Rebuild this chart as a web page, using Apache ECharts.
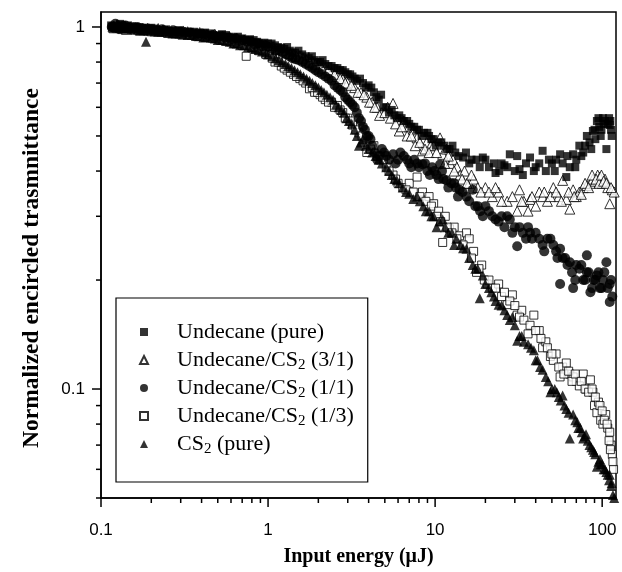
<!DOCTYPE html>
<html>
<head>
<meta charset="utf-8">
<script src="https://cdn.jsdelivr.net/npm/echarts@6/dist/echarts.min.js"></script>
<style>
html,body{margin:0;padding:0;background:#fff;}
#c{width:622px;height:572px;}
</style>
</head>
<body>
<div id="c"></div>
<script>
// ---- Data ----
const seriesNames = ['Undecane (pure)', 'Undecane/CS2 (3/1)', 'Undecane/CS2 (1/1)', 'Undecane/CS2 (1/3)', 'CS2 (pure)'];

const undecanePure = [
[0.115,1.01],[0.12,0.99],[0.13,1.02],[0.14,1.0],[0.155,0.99],[0.17,1.0],[0.19,0.985],[0.21,0.99],[0.23,0.98],[0.26,0.975],[0.29,0.98],[0.32,0.965],[0.36,0.97],[0.4,0.955],[0.45,0.96],[0.5,0.945],[0.56,0.95],[0.62,0.935],[0.7,0.93],[0.78,0.925],[0.86,0.91],[0.95,0.905],
[0.118,1.0],[0.125,1.005],[0.135,0.99],[0.145,1.01],[0.16,1.0],[0.18,0.99],[0.2,0.995],[0.22,0.98],[0.245,0.985],[0.275,0.97],[0.305,0.975],[0.34,0.97],[0.38,0.96],[0.42,0.965],[0.47,0.95],[0.53,0.955],[0.59,0.94],[0.66,0.94],[0.74,0.92],[0.82,0.92],[0.9,0.9],[1.0,0.9],
[1.05,0.9],[1.15,0.88],[1.25,0.87],[1.35,0.86],[1.45,0.85],[1.6,0.84],[1.75,0.82],[1.9,0.81],[2.05,0.80],[2.2,0.79],[2.4,0.78],[2.6,0.77],[2.8,0.76],[3.0,0.74],[3.2,0.73],[3.4,0.71],[3.7,0.70],[4.0,0.69],[4.3,0.66],[4.6,0.63],[4.9,0.6],[5.3,0.58],[5.7,0.57],[6.1,0.57],[6.5,0.55],[7.0,0.54],[7.5,0.53],[8.0,0.52],[8.6,0.51],[9.2,0.5],[9.8,0.49],
[1.1,0.89],[1.2,0.875],[1.3,0.88],[1.4,0.85],[1.52,0.86],[1.68,0.83],[1.83,0.83],[1.98,0.8],[2.12,0.81],[2.3,0.78],[2.5,0.77],[2.7,0.76],[2.9,0.75],[3.1,0.74],[3.3,0.72],[3.55,0.72],[3.85,0.68],[4.15,0.68],[4.45,0.64],[4.75,0.65],[5.1,0.6],[5.5,0.59],[5.9,0.56],[6.3,0.56],[6.8,0.55],[7.2,0.53],[7.8,0.52],[8.3,0.5],[9.0,0.51],[9.5,0.49],
[10.5,0.48],[11.3,0.47],[12.2,0.46],[13.2,0.45],[14.7,0.436],[16,0.42],[17.7,0.43],[19.3,0.436],[21,0.41],[22.5,0.42],[24.2,0.40],[26,0.415],[28,0.445],[30,0.40],[33.5,0.39],[35,0.42],[37,0.436],[40,0.41],[44,0.455],[46,0.40],[50,0.42],[53,0.43],[56,0.445],[61,0.385],[64,0.41],[67,0.445],[70,0.43],[73,0.47],[77,0.45],[81,0.50],[84,0.48],[88,0.516],[91,0.49],[93,0.55],[96,0.53],[99,0.52],[101,0.56],[104,0.55],[106,0.46],[108,0.54],[111,0.536],[113,0.52],
[10.1,0.47],[10.9,0.48],[11.8,0.46],[12.7,0.47],[13.8,0.44],[15.3,0.45],[16.5,0.43],[18.5,0.41],[20,0.43],[23,0.395],[25,0.42],[27,0.41],[31,0.44],[32,0.405],[39,0.40],[42,0.42],[48,0.43],[52,0.40],[58,0.42],[62,0.44],[69,0.41],[75,0.44],[79,0.47],[86,0.46],[90,0.52],[95,0.56],[98,0.5],[102,0.54],[110,0.56],[112,0.55],[114,0.5]
];

const mix31 = [
[0.118,1.0],[0.125,1.01],[0.135,0.99],[0.15,1.0],[0.165,0.99],[0.18,0.985],[0.2,0.98],[0.22,0.99],[0.25,0.975],[0.28,0.97],[0.31,0.975],[0.35,0.96],[0.39,0.965],[0.43,0.95],[0.48,0.955],[0.53,0.94],[0.59,0.935],[0.65,0.93],[0.72,0.92],[0.8,0.91],[0.88,0.9],[0.97,0.89],
[0.12,0.995],[0.13,1.0],[0.142,0.985],[0.158,0.99],[0.172,0.98],[0.19,0.99],[0.21,0.975],[0.235,0.98],[0.265,0.97],[0.295,0.965],[0.33,0.97],[0.37,0.955],[0.41,0.955],[0.455,0.945],[0.5,0.94],[0.56,0.93],[0.62,0.925],[0.68,0.915],[0.76,0.915],[0.84,0.9],[0.92,0.895],[1.02,0.88],
[1.07,0.88],[1.18,0.87],[1.3,0.85],[1.42,0.84],[1.55,0.83],[1.7,0.81],[1.85,0.80],[2.0,0.79],[2.2,0.77],[2.4,0.75],[2.6,0.73],[2.8,0.72],[3.0,0.70],[3.3,0.68],[3.6,0.66],[3.9,0.64],[4.2,0.62],[4.5,0.6],[4.8,0.58],[5.2,0.6],[5.6,0.615],[6.1,0.516],[6.5,0.55],[7.0,0.53],[7.4,0.52],[7.8,0.494],[8.4,0.455],[8.9,0.48],[9.4,0.47],[9.8,0.47],
[1.12,0.87],[1.24,0.86],[1.36,0.845],[1.48,0.83],[1.62,0.82],[1.78,0.8],[1.92,0.79],[2.1,0.77],[2.3,0.76],[2.5,0.74],[2.7,0.72],[2.9,0.7],[3.15,0.69],[3.45,0.66],[3.75,0.65],[4.05,0.62],[4.35,0.6],[4.65,0.57],[5.0,0.58],[5.4,0.56],[5.8,0.54],[6.3,0.53],[6.8,0.5],[7.2,0.5],[7.6,0.47],[8.1,0.48],[8.7,0.46],[9.2,0.45],
[10.7,0.494],[11.1,0.445],[11.7,0.46],[12.3,0.42],[12.8,0.43],[13.5,0.41],[14.1,0.39],[15,0.40],[16,0.37],[17,0.38],[18,0.36],[20,0.36],[22,0.34],[24,0.35],[27,0.33],[31,0.31],[32,0.355],[34,0.33],[36,0.31],[37,0.334],[40,0.32],[42,0.35],[44,0.34],[47,0.33],[51,0.36],[55,0.34],[58,0.377],[61,0.334],[64,0.314],[67,0.355],[70,0.34],[73,0.35],[77,0.36],[81,0.365],[85,0.37],[88,0.38],[91,0.375],[94,0.39],[97,0.385],[100,0.37],[104,0.38],[108,0.36],[111,0.325],[115,0.355],[118,0.35],
[10.2,0.45],[11.4,0.42],[12,0.44],[13,0.40],[14.5,0.38],[15.5,0.37],[16.5,0.39],[18.8,0.35],[21,0.35],[23,0.36],[25,0.33],[29,0.34],[33,0.33],[38,0.34],[45,0.35],[49,0.34],[53,0.35],[57,0.33],[63,0.35],[68,0.34],[75,0.345],[79,0.37],[83,0.36],[87,0.39],[92,0.38],[96,0.37],[99,0.39],[102,0.375],[106,0.37],[113,0.36]
];

const mix11 = [
[0.116,1.0],[0.122,1.02],[0.13,1.0],[0.14,1.01],[0.15,0.99],[0.165,1.0],[0.18,0.99],[0.2,0.985],[0.22,0.98],[0.245,0.975],[0.27,0.98],[0.3,0.97],[0.34,0.965],[0.38,0.96],[0.42,0.955],[0.47,0.95],[0.52,0.945],[0.58,0.935],[0.64,0.93],[0.71,0.92],[0.79,0.91],[0.87,0.9],[0.96,0.89],
[0.118,1.0],[0.126,0.99],[0.135,1.005],[0.145,0.995],[0.157,1.0],[0.172,0.985],[0.19,0.99],[0.21,0.98],[0.232,0.985],[0.258,0.97],[0.285,0.97],[0.32,0.965],[0.36,0.955],[0.4,0.96],[0.445,0.945],[0.495,0.94],[0.55,0.935],[0.61,0.925],[0.675,0.915],[0.75,0.91],[0.83,0.895],[0.91,0.885],[1.0,0.88],
[1.06,0.87],[1.17,0.86],[1.28,0.84],[1.4,0.82],[1.53,0.81],[1.68,0.79],[1.84,0.77],[2.0,0.75],[2.2,0.73],[2.4,0.71],[2.6,0.68],[2.8,0.66],[3.0,0.63],[3.2,0.61],[3.4,0.58],[3.6,0.55],[3.8,0.52],[4.0,0.5],[4.2,0.47],[4.5,0.43],[4.8,0.46],[5.1,0.44],[5.6,0.445],[6.0,0.43],[6.5,0.44],[7.0,0.42],[7.5,0.43],[8.0,0.41],[8.4,0.418],[9.0,0.40],[9.6,0.41],
[1.11,0.86],[1.22,0.85],[1.34,0.83],[1.46,0.815],[1.6,0.8],[1.76,0.78],[1.92,0.76],[2.1,0.74],[2.3,0.72],[2.5,0.69],[2.7,0.67],[2.9,0.64],[3.1,0.62],[3.3,0.6],[3.5,0.56],[3.7,0.53],[3.9,0.5],[4.1,0.49],[4.35,0.45],[4.65,0.44],[4.95,0.45],[5.3,0.43],[5.8,0.42],[6.2,0.45],[6.8,0.43],[7.2,0.41],[7.8,0.42],[8.7,0.42],[9.3,0.39],[9.9,0.4],
[10.2,0.39],[10.7,0.417],[11.2,0.38],[11.7,0.377],[12.5,0.37],[13.3,0.36],[14,0.355],[15.4,0.34],[16.8,0.355],[18,0.32],[19.3,0.30],[21,0.31],[23,0.294],[25,0.30],[28,0.294],[30,0.28],[31,0.248],[33.5,0.27],[36,0.28],[38,0.26],[40,0.27],[44,0.25],[47,0.26],[49,0.26],[53,0.24],[56,0.244],[56,0.195],[60,0.23],[64,0.224],[67,0.19],[70,0.22],[73,0.215],[77,0.2],[81,0.234],[81,0.21],[85,0.185],[89,0.2],[93,0.206],[97,0.19],[101,0.2],[106,0.224],[108,0.19],[111,0.195],[111,0.174],[115,0.18],
[10.5,0.38],[11,0.4],[12,0.36],[13,0.37],[13.7,0.34],[14.6,0.35],[16,0.33],[17.4,0.32],[18.6,0.31],[20,0.32],[22,0.3],[24,0.29],[26,0.28],[27,0.3],[29,0.27],[32,0.28],[35,0.26],[37,0.27],[42,0.26],[45,0.24],[51,0.25],[54,0.23],[58,0.23],[62,0.22],[66,0.21],[69,0.2],[75,0.22],[79,0.2],[83,0.21],[87,0.19],[91,0.2],[95,0.21],[99,0.19],[103,0.21],[113,0.2]
];

const mix13 = [
[0.117,1.0],[0.124,0.99],[0.133,1.01],[0.145,0.99],[0.16,0.98],[0.175,0.99],[0.19,0.975],[0.21,0.98],[0.235,0.97],[0.26,0.965],[0.29,0.96],[0.32,0.955],[0.36,0.95],[0.4,0.945],[0.44,0.94],[0.49,0.93],[0.54,0.925],[0.6,0.91],[0.66,0.9],[0.74,0.83],[0.76,0.89],[0.84,0.87],[0.93,0.86],
[0.12,1.005],[0.128,0.995],[0.138,0.99],[0.152,0.985],[0.168,0.98],[0.182,0.98],[0.2,0.97],[0.222,0.97],[0.25,0.96],[0.275,0.96],[0.305,0.95],[0.34,0.95],[0.38,0.94],[0.42,0.935],[0.465,0.93],[0.515,0.92],[0.57,0.915],[0.63,0.9],[0.7,0.89],[0.8,0.875],[0.88,0.86],[0.97,0.84],
[1.02,0.84],[1.1,0.8],[1.2,0.78],[1.3,0.76],[1.42,0.74],[1.55,0.72],[1.68,0.7],[1.77,0.675],[1.9,0.66],[2.05,0.65],[2.2,0.63],[2.4,0.62],[2.6,0.607],[2.8,0.58],[3.0,0.56],[3.2,0.536],[3.5,0.51],[3.9,0.494],[3.9,0.45],[4.3,0.47],[4.7,0.44],[5.1,0.41],[5.6,0.39],[6.0,0.37],[6.4,0.36],[7.0,0.37],[7.8,0.385],[8.4,0.35],[9.2,0.34],[9.8,0.325],
[1.06,0.82],[1.15,0.8],[1.25,0.77],[1.36,0.75],[1.48,0.73],[1.62,0.71],[1.84,0.68],[1.98,0.66],[2.12,0.64],[2.3,0.62],[2.5,0.6],[2.7,0.59],[2.9,0.56],[3.1,0.55],[3.35,0.52],[3.65,0.5],[4.1,0.46],[4.5,0.44],[4.9,0.43],[5.3,0.4],[5.8,0.38],[6.7,0.355],[7.4,0.35],[8.1,0.34],[8.8,0.33],[9.5,0.32],
[10.5,0.31],[11.1,0.254],[11.5,0.3],[12.2,0.277],[13,0.28],[14,0.265],[15.4,0.27],[16,0.26],[17,0.24],[17.7,0.21],[19,0.22],[20.5,0.195],[22,0.19],[24,0.195],[27,0.171],[29,0.182],[31,0.16],[33,0.165],[36,0.142],[39,0.16],[42,0.145],[44,0.13],[46,0.135],[49,0.123],[51,0.12],[53,0.125],[56,0.108],[58,0.115],[61,0.118],[64,0.11],[67,0.108],[70,0.105],[73,0.102],[77,0.11],[80,0.1],[85,0.106],[88,0.098],[90,0.09],[93,0.086],[95,0.092],[98,0.082],[101,0.08],[105,0.085],[108,0.078],[111,0.076],[113,0.07],[115,0.066],[117,0.06],
[10.2,0.3],[10.8,0.29],[11.8,0.28],[12.6,0.27],[13.5,0.26],[14.7,0.25],[16.5,0.23],[18.3,0.215],[19.7,0.2],[21,0.2],[23,0.19],[25,0.18],[26,0.185],[28,0.175],[30,0.17],[32,0.158],[34,0.155],[37,0.15],[40,0.145],[43,0.138],[47,0.13],[50,0.125],[55,0.115],[59,0.11],[63,0.112],[66,0.105],[69,0.11],[75,0.105],[79,0.1],[83,0.098],[87,0.1],[91,0.095],[97,0.09],[100,0.087],[103,0.082],[107,0.08],[110,0.072],[112,0.068],[116,0.063]
];

const cs2Pure = [
[0.119,1.01],[0.127,1.0],[0.137,0.99],[0.148,1.0],[0.16,0.99],[0.172,0.98],[0.186,0.91],[0.19,0.98],[0.21,0.975],[0.23,0.97],[0.255,0.965],[0.28,0.96],[0.31,0.955],[0.35,0.95],[0.39,0.945],[0.43,0.94],[0.48,0.93],[0.53,0.92],[0.59,0.91],[0.65,0.9],[0.72,0.89],[0.8,0.88],[0.88,0.865],[0.97,0.85],
[0.122,1.0],[0.132,1.005],[0.142,0.99],[0.154,0.995],[0.166,0.985],[0.18,0.98],[0.2,0.98],[0.22,0.97],[0.242,0.97],[0.268,0.96],[0.295,0.96],[0.33,0.95],[0.37,0.945],[0.41,0.935],[0.455,0.935],[0.5,0.92],[0.56,0.915],[0.62,0.9],[0.68,0.89],[0.76,0.88],[0.84,0.87],[0.92,0.855],[1.0,0.84],
[1.06,0.83],[1.16,0.81],[1.27,0.79],[1.38,0.77],[1.5,0.75],[1.63,0.73],[1.77,0.71],[1.92,0.69],[2.08,0.67],[2.25,0.65],[2.45,0.63],[2.65,0.6],[2.85,0.58],[3.05,0.55],[3.3,0.52],[3.5,0.47],[3.7,0.49],[4.0,0.46],[4.4,0.44],[4.8,0.42],[5.1,0.41],[5.5,0.39],[5.9,0.377],[6.4,0.36],[7.0,0.346],[7.8,0.34],[8.5,0.32],[9.2,0.31],[9.8,0.30],
[1.11,0.82],[1.21,0.8],[1.32,0.78],[1.44,0.76],[1.56,0.74],[1.7,0.72],[1.84,0.7],[2.0,0.68],[2.16,0.66],[2.35,0.64],[2.55,0.61],[2.75,0.59],[2.95,0.56],[3.17,0.54],[3.4,0.5],[3.6,0.48],[3.85,0.47],[4.2,0.45],[4.6,0.43],[5.3,0.4],[5.7,0.38],[6.1,0.37],[6.7,0.35],[7.4,0.335],[8.1,0.33],[8.8,0.31],[9.5,0.3],
[10.2,0.28],[11.1,0.294],[12,0.27],[13.4,0.26],[14.2,0.25],[15.4,0.244],[16.8,0.22],[18,0.215],[18.5,0.178],[19.3,0.206],[21,0.19],[22.5,0.18],[24,0.171],[26,0.165],[29,0.158],[31,0.136],[33,0.14],[36,0.133],[39,0.128],[41,0.12],[44,0.113],[46,0.108],[49,0.098],[52,0.1],[55,0.095],[58,0.096],[61,0.088],[64,0.073],[67,0.085],[71,0.081],[74,0.078],[77,0.073],[80,0.075],[84,0.07],[88,0.068],[91,0.066],[93,0.061],[97,0.064],[100,0.062],[104,0.06],[108,0.058],[111,0.058],[114,0.055],[116,0.051],
[10.6,0.29],[11.5,0.28],[12.6,0.27],[13,0.25],[14.7,0.245],[16,0.23],[17.4,0.215],[20,0.195],[21.7,0.185],[23,0.175],[25,0.17],[27,0.16],[28,0.155],[30,0.15],[32,0.14],[34,0.135],[37.5,0.13],[40,0.12],[42.5,0.115],[47.5,0.105],[50,0.1],[53.5,0.098],[56.5,0.093],[59.5,0.09],[63,0.086],[69,0.082],[72,0.078],[75.5,0.076],[78.5,0.074],[82,0.072],[86,0.069],[89.5,0.067],[95,0.063],[98,0.062],[102,0.06],[106,0.059],[110,0.056],[113,0.054],[118,0.05]
];

// Axis ticks
const xMajorTicks = [0.1, 1, 10, 100];
const xMinorTicks = [0.2,0.3,0.4,0.5,0.6,0.7,0.8,0.9,2,3,4,5,6,7,8,9,20,30,40,50,60,70,80,90];
const yMajorTicks = [0.1, 1];
const yMinorTicks = [0.05,0.06,0.07,0.08,0.09,0.2,0.3,0.4,0.5,0.6,0.7,0.8,0.9];

const X_MIN = 0.1, X_MAX = 121, Y_MIN = 0.05, Y_MAX = 1.1;

// ---- Chart ----
const chart = echarts.init(document.getElementById('c'), null, {renderer: 'canvas'});

function isPow10(v) {
  const l = Math.log10(v);
  return Math.abs(l - Math.round(l)) < 1e-6;
}
function fmt(v) {
  if (!isPow10(v)) return '';
  return String(+(+v).toPrecision(3));
}

const filled = {color: '#000', borderColor: '#000', borderWidth: 0};
const open = {color: '#fff', borderColor: '#000', borderWidth: 1};

const xTickData = xMajorTicks.map(v => [v, Y_MIN, 9]).concat(xMinorTicks.map(v => [v, Y_MIN, 5]));
const yTickData = yMajorTicks.map(v => [X_MIN, v, 9]).concat(yMinorTicks.map(v => [X_MIN, v, 5]));

const option = {
  animation: false,
  backgroundColor: '#fff',
  grid: {left: 101, right: 6, top: 12, bottom: 65, show: true, borderColor: '#000', borderWidth: 1.5, backgroundColor: 'transparent'},
  xAxis: {
    type: 'log', logBase: 10, min: X_MIN, max: X_MAX,
    name: 'Input energy (\u03bcJ)', nameLocation: 'middle', nameGap: 49,
    nameTextStyle: {fontFamily: 'Liberation Serif', fontWeight: 'bold', fontSize: 20, color: '#000'},
    axisLine: {show: true, lineStyle: {color: '#000', width: 1.5}},
    axisTick: {show: false},
    splitLine: {show: false},
    minorTick: {show: false},
    axisLabel: {formatter: fmt, margin: 24, fontFamily: 'Liberation Sans', fontSize: 17, color: '#000'}
  },
  yAxis: {
    type: 'log', logBase: 10, min: Y_MIN, max: Y_MAX,
    name: 'Normalized encircled trasmnittance', nameLocation: 'middle', nameGap: 57,
    nameTextStyle: {fontFamily: 'Liberation Serif', fontWeight: 'bold', fontSize: 23.5, color: '#000', padding: [0, 26, 0, 0]},
    axisLine: {show: true, lineStyle: {color: '#000', width: 1.5}},
    axisTick: {show: false},
    splitLine: {show: false},
    axisLabel: {formatter: fmt, margin: 16, fontFamily: 'Liberation Sans', fontSize: 17, color: '#000'}
  },
  legend: {
    data: seriesNames,
    orient: 'vertical',
    left: 116, top: 298,
    padding: [21, 14, 25, 23],
    itemWidth: 8, itemHeight: 8, itemGap: 2,
    borderColor: '#000', borderWidth: 1.2,
    backgroundColor: '#fff',
    selectedMode: false,
    formatter: function (name) { return name.replace('CS2', 'CS{s|2}'); },
    textStyle: {
      fontFamily: 'Liberation Serif', fontSize: 22, color: '#000', lineHeight: 26, padding: [0, 0, 0, 24],
      rich: {
        s: {fontFamily: 'Liberation Serif', fontSize: 15, color: '#000', lineHeight: 26, verticalAlign: 'bottom'}
      }
    }
  },
  series: [
    {name: seriesNames[1], type: 'scatter', data: mix31, symbol: 'triangle', symbolSize: 10, itemStyle: open},
    {name: seriesNames[3], type: 'scatter', data: mix13, symbol: 'rect', symbolSize: 8, itemStyle: open},
    {name: seriesNames[4], type: 'scatter', data: cs2Pure, symbol: 'triangle', symbolSize: 10, itemStyle: filled},
    {name: seriesNames[2], type: 'scatter', data: mix11, symbol: 'circle', symbolSize: 10, itemStyle: filled},
    {name: seriesNames[0], type: 'scatter', data: undecanePure, symbol: 'rect', symbolSize: 8, itemStyle: filled},
    {
      name: 'xticks', type: 'custom', data: xTickData, clip: false, silent: true, z: 5,
      renderItem: function (params, api) {
        const p = api.coord([api.value(0), api.value(1)]);
        const len = api.value(2);
        return {type: 'line', shape: {x1: p[0], y1: p[1], x2: p[0], y2: p[1] + len}, style: {stroke: '#000', lineWidth: 1.5}};
      }
    },
    {
      name: 'yticks', type: 'custom', data: yTickData, clip: false, silent: true, z: 5,
      renderItem: function (params, api) {
        const p = api.coord([api.value(0), api.value(1)]);
        const len = api.value(2);
        return {type: 'line', shape: {x1: p[0] - len, y1: p[1], x2: p[0], y2: p[1]}, style: {stroke: '#000', lineWidth: 1.5}};
      }
    }
  ]
};
chart.setOption(option);
</script>
</body>
</html>
